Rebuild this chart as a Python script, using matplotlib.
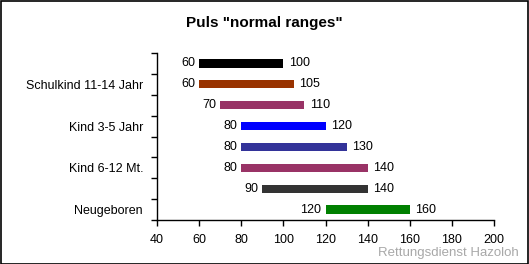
import matplotlib
matplotlib.use("Agg")
import matplotlib.pyplot as plt
from matplotlib.patches import Rectangle
import numpy as np

# Data (top to bottom)
categories = ["", "Schulkind 11-14 Jahr", "", "Kind 3-5 Jahr", "", "Kind 6-12 Mt.", "", "Neugeboren"]
low_values = [60, 60, 70, 80, 80, 80, 90, 120]
high_values = [100, 105, 110, 120, 130, 140, 140, 160]
bar_colors = ["#000000", "#993300", "#993366", "#0000FF", "#333399", "#993366", "#333333", "#008000"]
x_ticks = [40, 60, 80, 100, 120, 140, 160, 180, 200]

plt.rcParams['font.family'] = ['Liberation Sans', 'DejaVu Sans']

W, H = 529, 264
fig = plt.figure(figsize=(W/100, H/100), dpi=100)
fig.patch.set_facecolor("white")
fig.patches.append(Rectangle((0.5/W, 0.5/H), 1 - 1.5/W, 1 - 1.5/H, transform=fig.transFigure,
                             fill=False, edgecolor="black", linewidth=1.2))

ax = fig.add_axes([157/W, 1 - 220/H, (494-157)/W, (220-53)/H])
n = len(categories)
y = np.arange(n)
widths = [h - l for l, h in zip(low_values, high_values)]
ax.barh(y, widths, left=low_values, height=0.4, color=bar_colors)
ax.set_ylim(n - 0.5, -0.5)
ax.set_xlim(40, 200)

fs = 9
for yi, l, h in zip(y, low_values, high_values):
    ax.annotate(str(l), (l, yi), xytext=(-3, 0), textcoords="offset points",
                ha="right", va="center", fontsize=fs)
    ax.annotate(str(h), (h, yi), xytext=(4, 0), textcoords="offset points",
                ha="left", va="center", fontsize=fs)

ax.set_xticks(x_ticks)
ax.set_xticklabels([str(t) for t in x_ticks], fontsize=fs)
ax.set_yticks(y)
ax.set_yticklabels(categories, fontsize=fs)
ax.set_yticks(np.arange(n + 1) - 0.5, minor=True)
ax.tick_params(axis="y", which="major", length=0, pad=10)
ax.tick_params(axis="y", which="minor", length=4, width=1, direction="out")
ax.tick_params(axis="x", which="major", length=4, width=1, direction="out", pad=6)
for s in ["top", "right"]:
    ax.spines[s].set_visible(False)
for s in ["left", "bottom"]:
    ax.spines[s].set_linewidth(1)

fig.text(0.5, 1 - 23/H, 'Puls "normal ranges"', ha="center", va="center",
         fontsize=11, fontweight="bold")
fig.text(519/W, 1 - 253/H, "Rettungsdienst Hazoloh", ha="right", va="center",
         fontsize=9.5, color="#a8a8a8")

fig.savefig("out.png", dpi=100)
